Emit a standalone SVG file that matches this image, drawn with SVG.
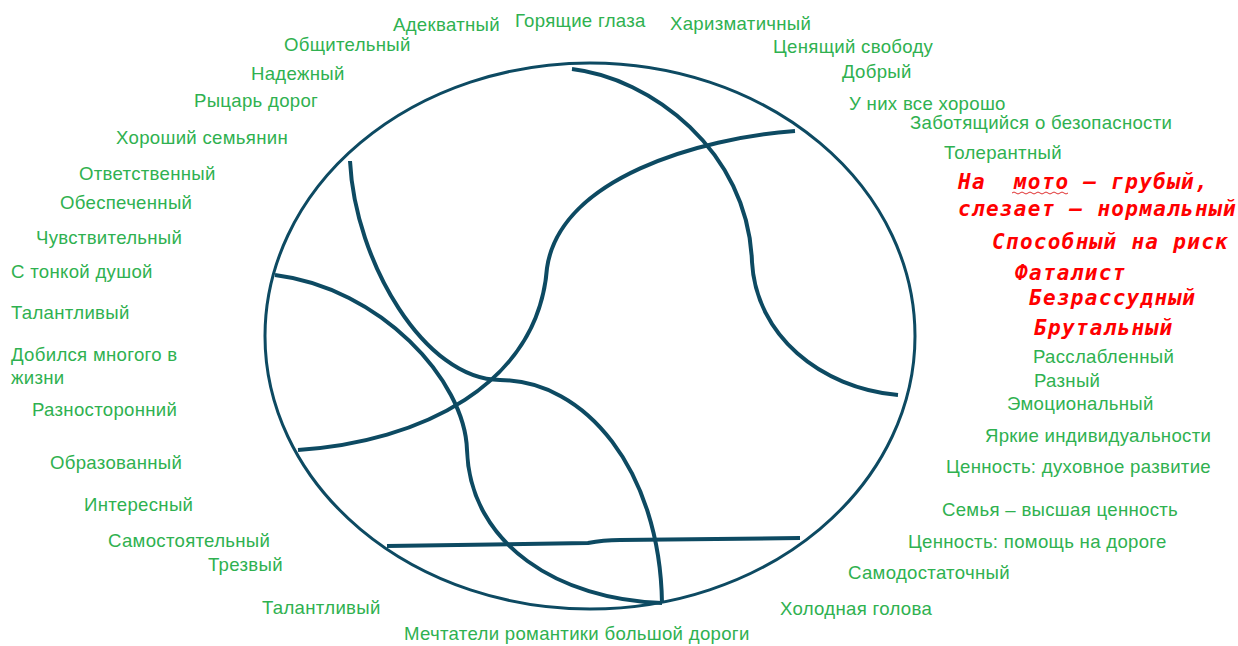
<svg xmlns="http://www.w3.org/2000/svg" width="1238" height="646" viewBox="0 0 1238 646">
<style>
.g{font-family:"Liberation Sans",Arial,sans-serif;font-size:18.6px;letter-spacing:0.3px;fill:#2fb150}
.r{font-family:"DejaVu Sans Mono",monospace;font-size:21px;font-weight:bold;font-style:italic;fill:#ff0000;letter-spacing:1.3px}
.c{fill:none;stroke:#0d4a62;stroke-width:4;stroke-linecap:butt}
</style>
<rect width="1238" height="646" fill="#ffffff"/>
<g id="circle"><ellipse cx="590" cy="336" rx="325" ry="273" fill="none" stroke="#0d4a62" stroke-width="3"/></g>
<g id="connectors">
<path class="c" d="M572,69 C650,78 748,150 752,262 C756,335 820,388 898,395"/>
<path class="c" d="M795,131 C700,138 560,178 547,268 C538,385 420,442 298,450"/>
<path class="c" d="M350,161 C355,262 425,380 500,380 C585,380 660,470 662,603"/>
<path class="c" d="M275,275 C380,288 465,380 467,450 C470,545 560,600 662,603"/>
<path class="c" d="M387,546 L588,543 C598,541 608,540 620,540 L800,538"/>
</g>
<g id="labels-top">
<text class="g" x="393" y="31">Адекватный</text>
<text class="g" x="515" y="27">Горящие глаза</text>
<text class="g" x="670" y="30">Харизматичный</text>
<text class="g" x="284" y="51">Общительный</text>
<text class="g" x="773" y="53">Ценящий свободу</text>
<text class="g" x="251" y="80">Надежный</text>
<text class="g" x="842" y="78">Добрый</text>
<text class="g" x="194" y="107">Рыцарь дорог</text>
<text class="g" x="849" y="110">У них все хорошо</text>
</g>
<g id="labels-left">
<text class="g" x="116" y="144">Хороший семьянин</text>
<text class="g" x="79" y="180">Ответственный</text>
<text class="g" x="60" y="209">Обеспеченный</text>
<text class="g" x="36" y="244">Чувствительный</text>
<text class="g" x="11" y="278">С тонкой душой</text>
<text class="g" x="11" y="319">Талантливый</text>
<text class="g" x="11" y="361">Добился многого в</text>
<text class="g" x="11" y="384">жизни</text>
<text class="g" x="32" y="416">Разносторонний</text>
<text class="g" x="50" y="469">Образованный</text>
<text class="g" x="84" y="511">Интересный</text>
<text class="g" x="108" y="547">Самостоятельный</text>
<text class="g" x="208" y="571">Трезвый</text>
<text class="g" x="262" y="614">Талантливый</text>
</g>
<g id="labels-bottom">
<text class="g" x="404" y="640">Мечтатели романтики большой дороги</text>
<text class="g" x="780" y="615">Холодная голова</text>
</g>
<g id="labels-right">
<text class="g" x="910" y="129">Заботящийся о безопасности</text>
<text class="g" x="944" y="159">Толерантный</text>
<text class="g" x="1033" y="363">Расслабленный</text>
<text class="g" x="1034" y="387">Разный</text>
<text class="g" x="1007" y="410">Эмоциональный</text>
<text class="g" x="985" y="442">Яркие индивидуальности</text>
<text class="g" x="946" y="473">Ценность: духовное развитие</text>
<text class="g" x="942" y="516">Семья – высшая ценность</text>
<text class="g" x="908" y="548">Ценность: помощь на дороге</text>
<text class="g" x="848" y="579">Самодостаточный</text>
</g>
<g id="labels-red">
<text class="r" x="958" y="189" xml:space="preserve">На  мото – грубый,</text>
<path d="M1012,193 q2,-2 4,0 t4,0 t4,0 t4,0 t4,0 t4,0 t4,0 t4,0 t4,0 t4,0 t4,0 t4,0 t4,0 t4,0" fill="none" stroke="#e03030" stroke-width="1"/>
<text class="r" x="958" y="216">слезает – нормальный</text>
<text class="r" x="992" y="249">Способный на риск</text>
<text class="r" x="1015" y="280">Фаталист</text>
<text class="r" x="1029" y="305">Безрассудный</text>
<text class="r" x="1034" y="335">Брутальный</text>
</g>
</svg>
